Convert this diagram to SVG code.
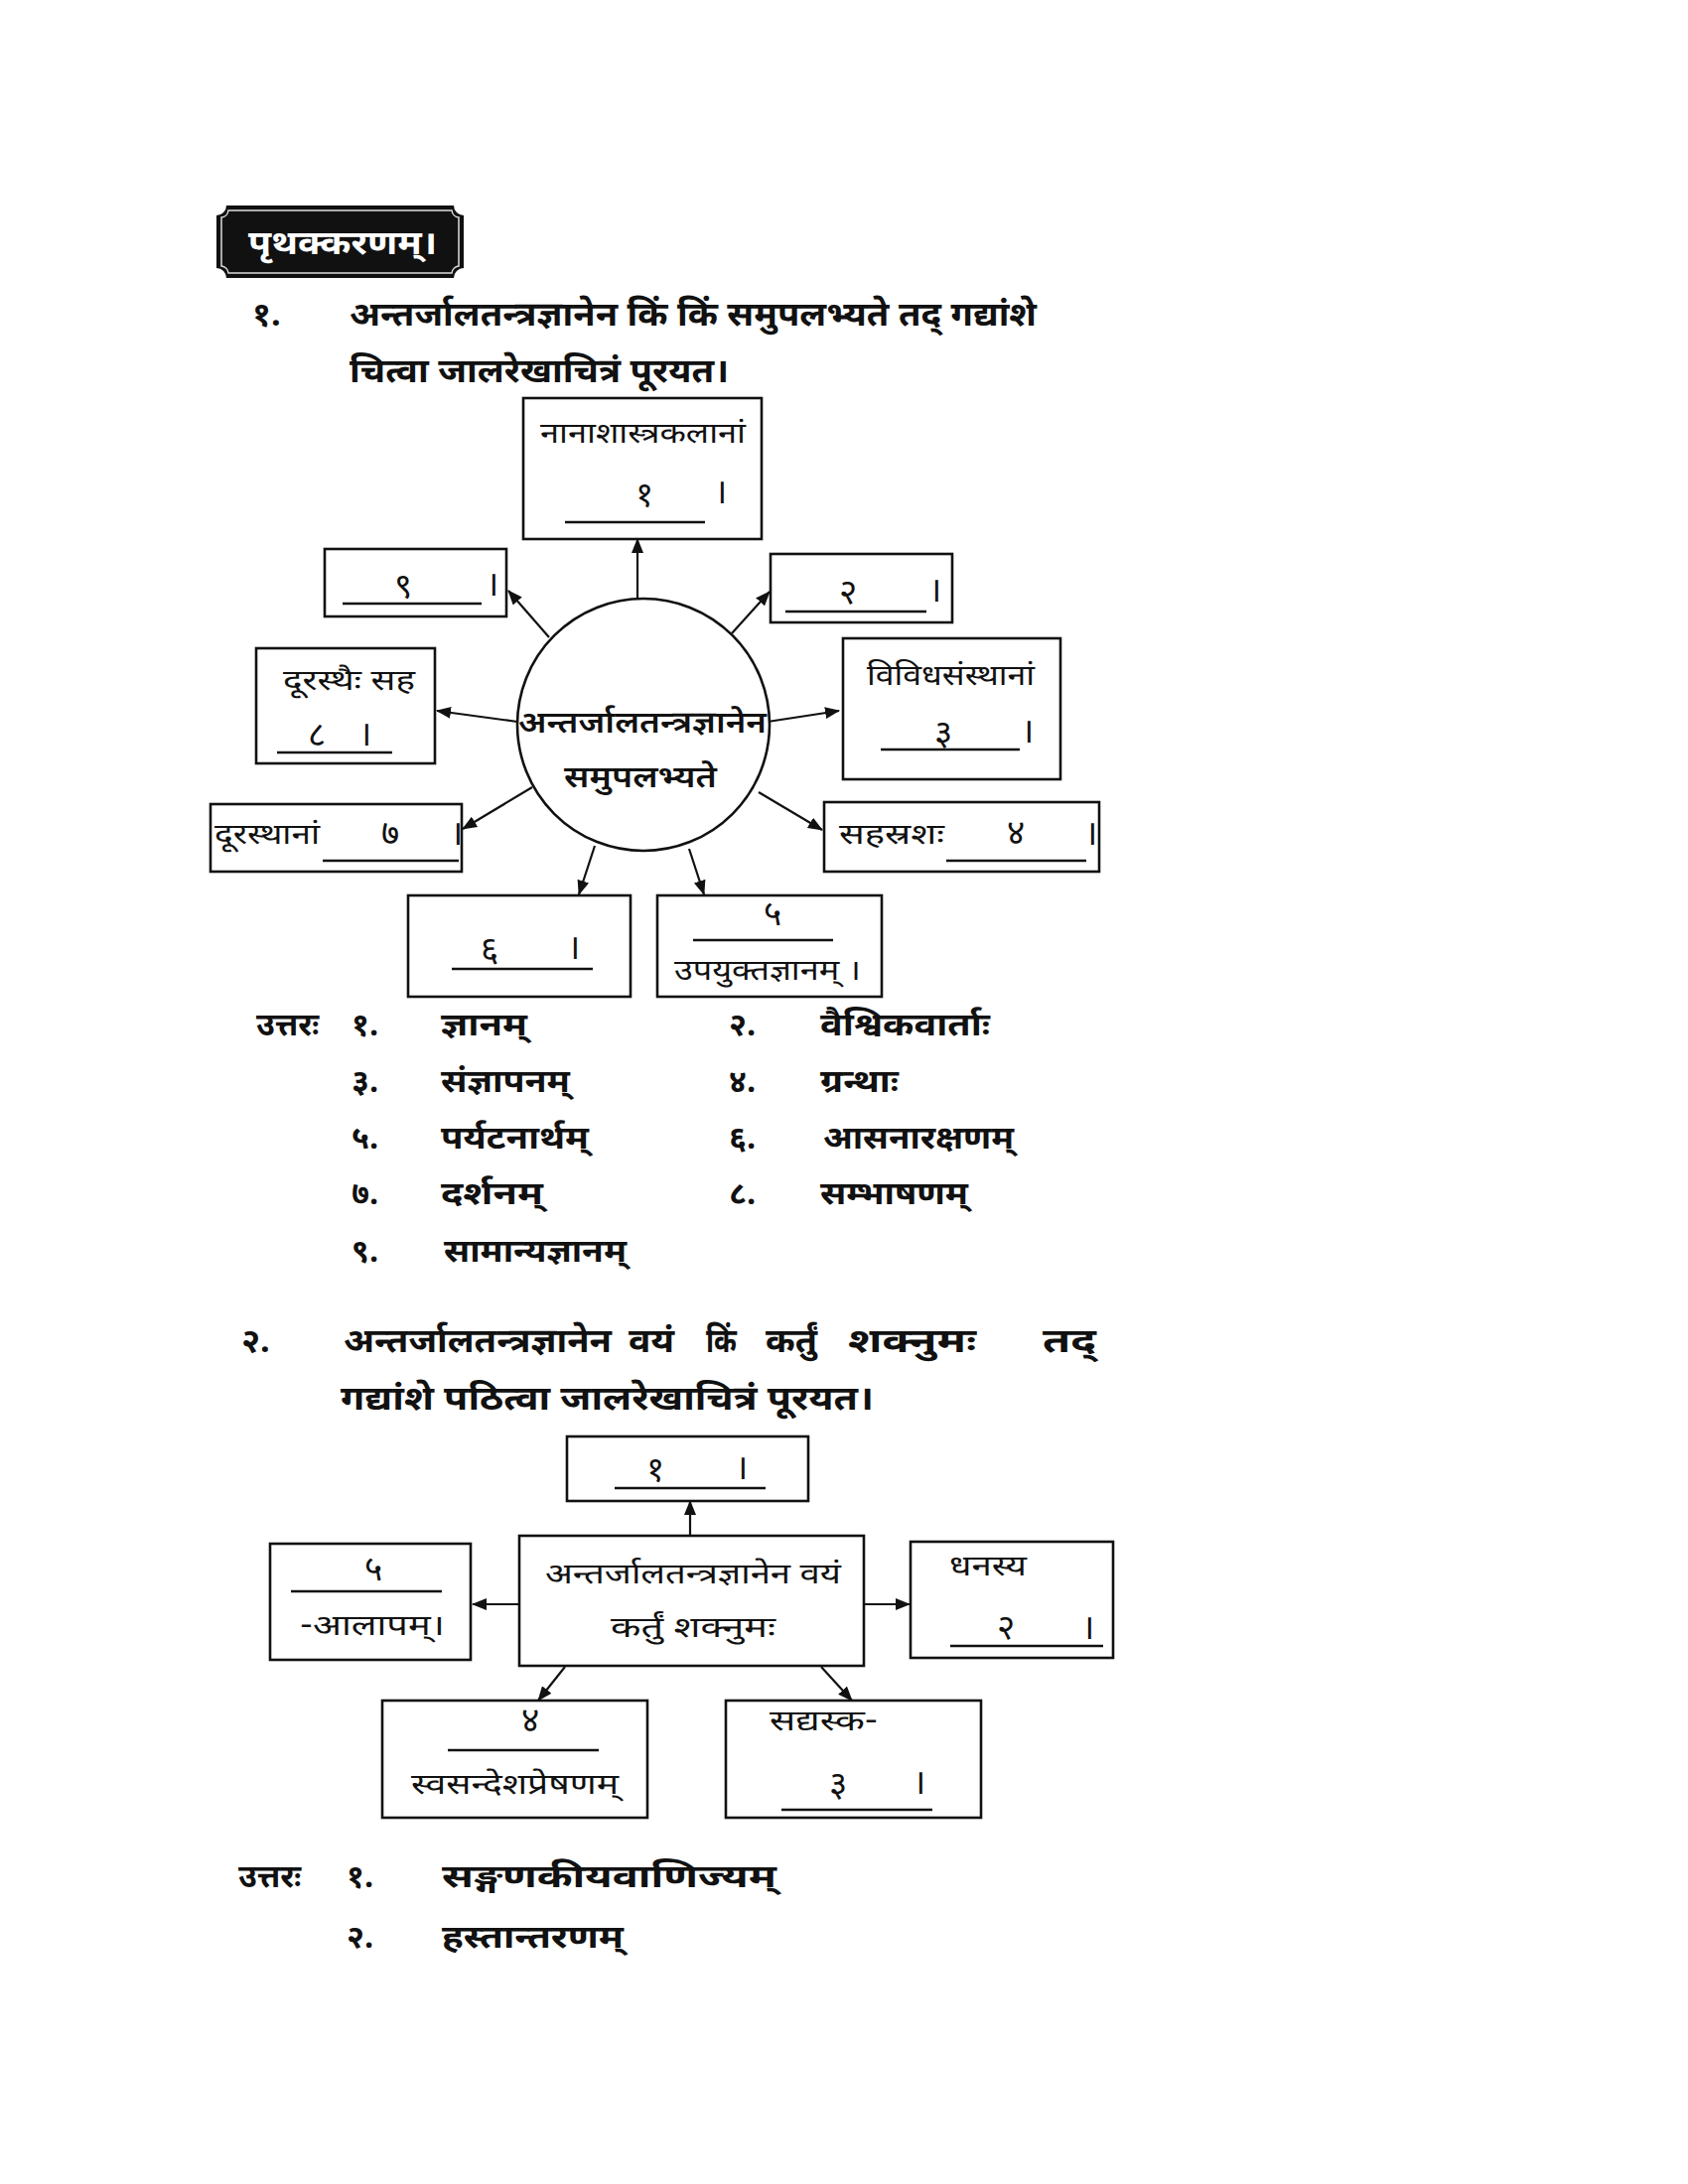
<svg xmlns="http://www.w3.org/2000/svg" width="1700" height="2200" viewBox="0 0 1700 2200">
<defs>
<style>
text{font-family:'Noto Sans Devanagari','Lohit Devanagari','Noto Serif Devanagari','FreeSans','Noto Sans',sans-serif;fill:#111}
.q{font-size:34px;font-weight:700}
.a{font-size:32px;font-weight:700}
.l{font-size:29px;font-weight:400}
.d{font-size:35px;font-weight:400}
.c{font-size:31px;font-weight:600}
.bx{fill:#fff;stroke:#111;stroke-width:2.6}
.ul{stroke:#111;stroke-width:2.6}
.cn{stroke:#111;stroke-width:2.2;fill:none;marker-end:url(#ah)}
</style>
<marker id="ah" markerUnits="userSpaceOnUse" markerWidth="16" markerHeight="12" refX="14" refY="6" orient="auto">
<path d="M0,0 L15,6 L0,12 Z" fill="#111"/>
</marker>
</defs>
<rect width="1700" height="2200" fill="#fff"/>

<g id="title">
<path d="M228,207 H457 A10,10 0 0 0 467,217 V270 A10,10 0 0 0 457,280 H228 A10,10 0 0 0 218,270 V217 A10,10 0 0 0 228,207 Z" fill="#111"/>
<path d="M230,212 H455 A8,8 0 0 0 462,219 V268 A8,8 0 0 0 455,275 H230 A8,8 0 0 0 223,268 V219 A8,8 0 0 0 230,212 Z" fill="none" stroke="#ddd" stroke-width="1.5"/>
<text x="250" y="256" style="font-size:33px;font-weight:700;fill:#fff" textLength="190" lengthAdjust="spacingAndGlyphs">पृथक्करणम्।</text>
</g>

<g id="q1">
<text class="q" x="254" y="328">१.</text>
<text class="q" x="352" y="328" textLength="692" lengthAdjust="spacingAndGlyphs">अन्तर्जालतन्त्रज्ञानेन किं किं समुपलभ्यते तद् गद्यांशे</text>
<text class="q" x="352" y="385" textLength="382" lengthAdjust="spacingAndGlyphs">चित्वा जालरेखाचित्रं पूरयत।</text>
</g>

<g id="connectors1">
<line class="cn" x1="642" y1="603" x2="642" y2="543"/>
<line class="cn" x1="553" y1="642" x2="512" y2="595"/>
<line class="cn" x1="737" y1="638" x2="775" y2="596"/>
<line class="cn" x1="521" y1="727" x2="440" y2="716"/>
<line class="cn" x1="773" y1="727" x2="845" y2="716"/>
<line class="cn" x1="536" y1="793" x2="466" y2="835"/>
<line class="cn" x1="764" y1="798" x2="828" y2="836"/>
<line class="cn" x1="599" y1="852" x2="583" y2="901"/>
<line class="cn" x1="694" y1="855" x2="709" y2="901"/>
</g>

<g id="center1">
<circle cx="648" cy="730" r="127" fill="#fff" stroke="#111" stroke-width="2.6"/>
<text class="c" x="522" y="738" textLength="250" lengthAdjust="spacingAndGlyphs">अन्तर्जालतन्त्रज्ञानेन</text>
<text class="c" x="568" y="793" textLength="154" lengthAdjust="spacingAndGlyphs">समुपलभ्यते</text>
</g>

<g id="n1">
<rect class="bx" x="527" y="401" width="240" height="142"/>
<text class="l" x="544" y="446" textLength="207" lengthAdjust="spacingAndGlyphs">नानाशास्त्रकलानां</text>
<text class="d" x="640" y="510">१</text>
<text class="d" x="719" y="507">।</text>
<line class="ul" x1="569" y1="526" x2="710" y2="526"/>
</g>

<g id="n9">
<rect class="bx" x="327" y="553" width="183" height="68"/>
<text class="d" x="397" y="602">९</text>
<text class="d" x="489" y="600">।</text>
<line class="ul" x1="345" y1="608" x2="485" y2="608"/>
</g>

<g id="n2">
<rect class="bx" x="776" y="558" width="183" height="69"/>
<text class="d" x="845" y="608">२</text>
<text class="d" x="935" y="606">।</text>
<line class="ul" x1="791" y1="616" x2="933" y2="616"/>
</g>

<g id="n8">
<rect class="bx" x="258" y="653" width="180" height="116"/>
<text class="l" x="285" y="695" textLength="133" lengthAdjust="spacingAndGlyphs">दूरस्थैः सह</text>
<text class="d" x="310" y="752">८</text>
<text class="d" x="361" y="751">।</text>
<line class="ul" x1="279" y1="758" x2="395" y2="758"/>
</g>

<g id="n3">
<rect class="bx" x="849" y="643" width="219" height="142"/>
<text class="l" x="873" y="690" textLength="169" lengthAdjust="spacingAndGlyphs">विविधसंस्थानां</text>
<text class="d" x="941" y="750">३</text>
<text class="d" x="1028" y="748">।</text>
<line class="ul" x1="887" y1="755" x2="1027" y2="755"/>
</g>

<g id="n7">
<rect class="bx" x="212" y="810" width="253" height="68"/>
<text class="l" x="216" y="850" textLength="106" lengthAdjust="spacingAndGlyphs">दूरस्थानां</text>
<text class="d" x="384" y="851">७</text>
<text class="d" x="453" y="851">।</text>
<line class="ul" x1="325" y1="867" x2="462" y2="867"/>
</g>

<g id="n4">
<rect class="bx" x="830" y="808" width="277" height="70"/>
<text class="l" x="845" y="850" textLength="106" lengthAdjust="spacingAndGlyphs">सहस्रशः</text>
<text class="d" x="1014" y="851">४</text>
<text class="d" x="1092" y="851">।</text>
<line class="ul" x1="953" y1="867" x2="1094" y2="867"/>
</g>

<g id="n6">
<rect class="bx" x="411" y="902" width="224" height="102"/>
<text class="d" x="484" y="968">६</text>
<text class="d" x="571" y="966">।</text>
<line class="ul" x1="455" y1="976" x2="597" y2="976"/>
</g>

<g id="n5">
<rect class="bx" x="662" y="902" width="226" height="102"/>
<text class="d" x="769" y="932">५</text>
<line class="ul" x1="698" y1="947" x2="839" y2="947"/>
<text class="l" x="679" y="987" textLength="188" lengthAdjust="spacingAndGlyphs">उपयुक्तज्ञानम् ।</text>
</g>

<g id="ans1">
<text class="a" x="258" y="1043">उत्तरः</text>
<text class="a" x="354" y="1043">१.</text>
<text class="a" x="444" y="1043" textLength="87" lengthAdjust="spacingAndGlyphs">ज्ञानम्</text>
<text class="a" x="734" y="1043">२.</text>
<text class="a" x="826" y="1043" textLength="171" lengthAdjust="spacingAndGlyphs">वैश्विकवार्ताः</text>
<text class="a" x="354" y="1100">३.</text>
<text class="a" x="444" y="1100" textLength="130" lengthAdjust="spacingAndGlyphs">संज्ञापनम्</text>
<text class="a" x="734" y="1100">४.</text>
<text class="a" x="826" y="1100" textLength="79" lengthAdjust="spacingAndGlyphs">ग्रन्थाः</text>
<text class="a" x="354" y="1157">५.</text>
<text class="a" x="444" y="1157" textLength="149" lengthAdjust="spacingAndGlyphs">पर्यटनार्थम्</text>
<text class="a" x="734" y="1157">६.</text>
<text class="a" x="829" y="1157" textLength="192" lengthAdjust="spacingAndGlyphs">आसनारक्षणम्</text>
<text class="a" x="354" y="1213">७.</text>
<text class="a" x="444" y="1213" textLength="103" lengthAdjust="spacingAndGlyphs">दर्शनम्</text>
<text class="a" x="734" y="1213">८.</text>
<text class="a" x="826" y="1213" textLength="149" lengthAdjust="spacingAndGlyphs">सम्भाषणम्</text>
<text class="a" x="354" y="1271">९.</text>
<text class="a" x="447" y="1271" textLength="184" lengthAdjust="spacingAndGlyphs">सामान्यज्ञानम्</text>
</g>

<g id="q2">
<text class="q" x="243" y="1362">२.</text>
<text class="q" x="346" y="1362" textLength="270" lengthAdjust="spacingAndGlyphs">अन्तर्जालतन्त्रज्ञानेन</text>
<text class="q" x="633" y="1362" textLength="46" lengthAdjust="spacingAndGlyphs">वयं</text>
<text class="q" x="711" y="1362" textLength="31" lengthAdjust="spacingAndGlyphs">किं</text>
<text class="q" x="771" y="1362" textLength="52" lengthAdjust="spacingAndGlyphs">कर्तुं</text>
<text class="q" x="854" y="1362" textLength="129" lengthAdjust="spacingAndGlyphs">शक्नुमः</text>
<text class="q" x="1050" y="1362" textLength="54" lengthAdjust="spacingAndGlyphs">तद्</text>
<text class="q" x="343" y="1420" textLength="537" lengthAdjust="spacingAndGlyphs">गद्यांशे पठित्वा जालरेखाचित्रं पूरयत।</text>
</g>

<g id="connectors2">
<line class="cn" x1="695" y1="1547" x2="695" y2="1512"/>
<line class="cn" x1="523" y1="1616" x2="476" y2="1616"/>
<line class="cn" x1="870" y1="1616" x2="916" y2="1616"/>
<line class="cn" x1="569" y1="1679" x2="542" y2="1713"/>
<line class="cn" x1="827" y1="1679" x2="858" y2="1713"/>
</g>

<g id="m1">
<rect class="bx" x="571" y="1447" width="243" height="65"/>
<text class="d" x="651" y="1492">१</text>
<text class="d" x="740" y="1490">।</text>
<line class="ul" x1="619" y1="1499" x2="771" y2="1499"/>
</g>

<g id="mcenter">
<rect class="bx" x="523" y="1547" width="347" height="131"/>
<text class="l" x="549" y="1595" textLength="298" lengthAdjust="spacingAndGlyphs">अन्तर्जालतन्त्रज्ञानेन वयं</text>
<text class="l" x="615" y="1649" textLength="166" lengthAdjust="spacingAndGlyphs">कर्तुं शक्नुमः</text>
</g>

<g id="m5">
<rect class="bx" x="272" y="1555" width="202" height="117"/>
<text class="d" x="367" y="1592">५</text>
<line class="ul" x1="293" y1="1603" x2="445" y2="1603"/>
<text class="l" x="302" y="1647" textLength="146" lengthAdjust="spacingAndGlyphs">-आलापम्।</text>
</g>

<g id="m2">
<rect class="bx" x="917" y="1553" width="204" height="117"/>
<text class="l" x="956" y="1587" textLength="78" lengthAdjust="spacingAndGlyphs">धनस्य</text>
<text class="d" x="1004" y="1651">२</text>
<text class="d" x="1089" y="1651">।</text>
<line class="ul" x1="957" y1="1658" x2="1111" y2="1658"/>
</g>

<g id="m4">
<rect class="bx" x="385" y="1713" width="267" height="118"/>
<text class="d" x="525" y="1745">४</text>
<line class="ul" x1="451" y1="1763" x2="603" y2="1763"/>
<text class="l" x="414" y="1807" textLength="209" lengthAdjust="spacingAndGlyphs">स्वसन्देशप्रेषणम्</text>
</g>

<g id="m3">
<rect class="bx" x="731" y="1713" width="257" height="118"/>
<text class="l" x="775" y="1743" textLength="109" lengthAdjust="spacingAndGlyphs">सद्यस्क-</text>
<text class="d" x="835" y="1809">३</text>
<text class="d" x="919" y="1807">।</text>
<line class="ul" x1="787" y1="1823" x2="939" y2="1823"/>
</g>

<g id="ans2">
<text class="a" x="240" y="1901">उत्तरः</text>
<text class="a" x="349" y="1901">१.</text>
<text class="a" x="445" y="1901" textLength="337" lengthAdjust="spacingAndGlyphs">सङ्गणकीयवाणिज्यम्</text>
<text class="a" x="349" y="1962">२.</text>
<text class="a" x="445" y="1962" textLength="183" lengthAdjust="spacingAndGlyphs">हस्तान्तरणम्</text>
</g>
</svg>
